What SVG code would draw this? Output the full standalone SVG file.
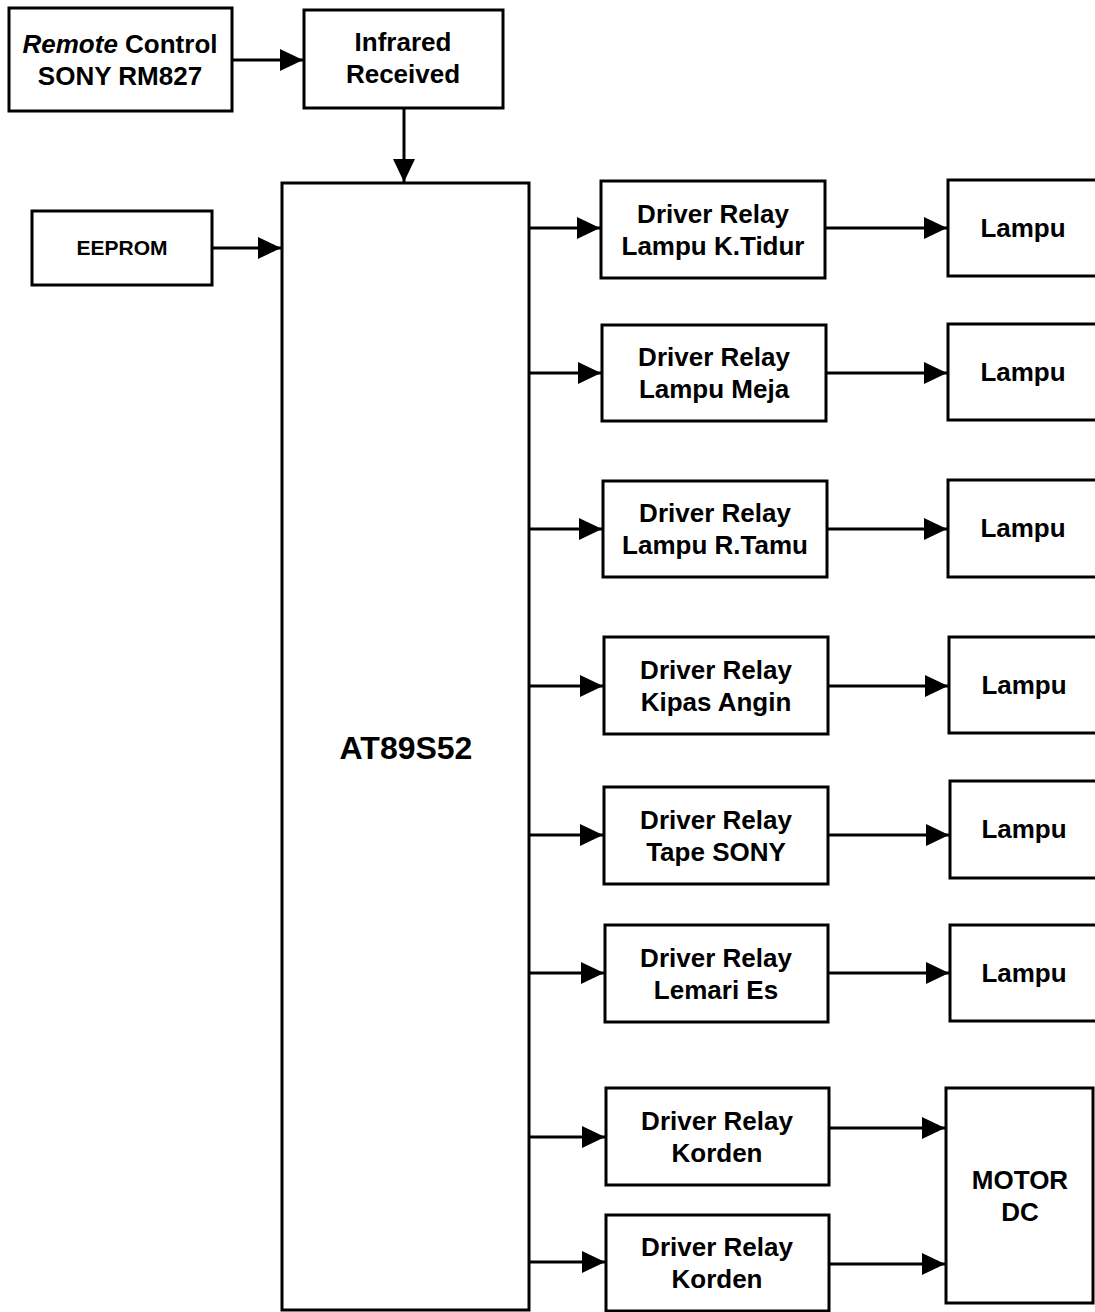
<svg xmlns="http://www.w3.org/2000/svg" width="1095" height="1312" viewBox="0 0 1095 1312">
<defs>
<marker id="ah" markerUnits="userSpaceOnUse" markerWidth="26" markerHeight="24" refX="23" refY="11" orient="auto">
<path d="M0,0 L23,11 L0,22 z" fill="#000"/>
</marker>
<style>
rect{fill:#fff;stroke:#000;stroke-width:3}
text{font-family:"Liberation Sans",Arial,sans-serif;font-weight:bold;font-size:26px;text-anchor:middle;fill:#000}
.c line{stroke:#000;stroke-width:3;marker-end:url(#ah)}
</style>
</defs>
<rect x="0" y="0" width="1095" height="1312" style="stroke:none"/>
<g id="remote"><rect x="9" y="8" width="223" height="103"/>
<text x="120" y="53"><tspan font-style="italic">Remote</tspan> Control</text>
<text x="120" y="85">SONY RM827</text></g>
<g id="infrared"><rect x="304" y="10" width="199" height="98"/>
<text x="403" y="51">Infrared</text><text x="403" y="83">Received</text></g>
<g id="eeprom"><rect x="32" y="211" width="180" height="74"/>
<text x="122" y="255" style="font-size:21px">EEPROM</text></g>
<g id="mcu"><rect x="282" y="183" width="247" height="1127"/>
<text x="406" y="759" style="font-size:32px">AT89S52</text></g>
<g id="dr1"><rect x="601" y="181" width="224" height="97"/><text x="713" y="223">Driver Relay</text><text x="713" y="255">Lampu K.Tidur</text></g>
<g id="dr2"><rect x="602" y="325" width="224" height="96"/><text x="714" y="366">Driver Relay</text><text x="714" y="398">Lampu Meja</text></g>
<g id="dr3"><rect x="603" y="481" width="224" height="96"/><text x="715" y="522">Driver Relay</text><text x="715" y="554">Lampu R.Tamu</text></g>
<g id="dr4"><rect x="604" y="637" width="224" height="97"/><text x="716" y="679">Driver Relay</text><text x="716" y="711">Kipas Angin</text></g>
<g id="dr5"><rect x="604" y="787" width="224" height="97"/><text x="716" y="829">Driver Relay</text><text x="716" y="861">Tape SONY</text></g>
<g id="dr6"><rect x="605" y="925" width="223" height="97"/><text x="716" y="967">Driver Relay</text><text x="716" y="999">Lemari Es</text></g>
<g id="dr7"><rect x="606" y="1088" width="223" height="97"/><text x="717" y="1130">Driver Relay</text><text x="717" y="1162">Korden</text></g>
<g id="dr8"><rect x="606" y="1215" width="223" height="96"/><text x="717" y="1256">Driver Relay</text><text x="717" y="1288">Korden</text></g>
<g id="lampu1"><rect x="948" y="180" width="152" height="96"/><text x="1023" y="237">Lampu</text></g>
<g id="lampu2"><rect x="948" y="324" width="152" height="96"/><text x="1023" y="381">Lampu</text></g>
<g id="lampu3"><rect x="948" y="480" width="152" height="97"/><text x="1023" y="537">Lampu</text></g>
<g id="lampu4"><rect x="949" y="637" width="152" height="96"/><text x="1024" y="694">Lampu</text></g>
<g id="lampu5"><rect x="950" y="781" width="152" height="97"/><text x="1024" y="838">Lampu</text></g>
<g id="lampu6"><rect x="950" y="925" width="152" height="96"/><text x="1024" y="982">Lampu</text></g>
<g id="motor"><rect x="946" y="1088" width="147" height="215"/><text x="1020" y="1189">MOTOR</text><text x="1020" y="1221">DC</text></g>
<g class="c" id="connectors">
<line x1="232" y1="60" x2="303" y2="60"/>
<line x1="404" y1="108" x2="404" y2="182"/>
<line x1="212" y1="248" x2="281" y2="248"/>
<line x1="529" y1="228" x2="600" y2="228"/>
<line x1="825" y1="228" x2="947" y2="228"/>
<line x1="529" y1="373" x2="601" y2="373"/>
<line x1="826" y1="373" x2="947" y2="373"/>
<line x1="529" y1="529" x2="602" y2="529"/>
<line x1="827" y1="529" x2="947" y2="529"/>
<line x1="529" y1="686" x2="603" y2="686"/>
<line x1="828" y1="686" x2="948" y2="686"/>
<line x1="529" y1="835" x2="603" y2="835"/>
<line x1="828" y1="835" x2="949" y2="835"/>
<line x1="529" y1="973" x2="604" y2="973"/>
<line x1="828" y1="973" x2="949" y2="973"/>
<line x1="529" y1="1137" x2="605" y2="1137"/>
<line x1="829" y1="1128" x2="945" y2="1128"/>
<line x1="529" y1="1262" x2="605" y2="1262"/>
<line x1="829" y1="1264" x2="945" y2="1264"/>
</g>
</svg>
